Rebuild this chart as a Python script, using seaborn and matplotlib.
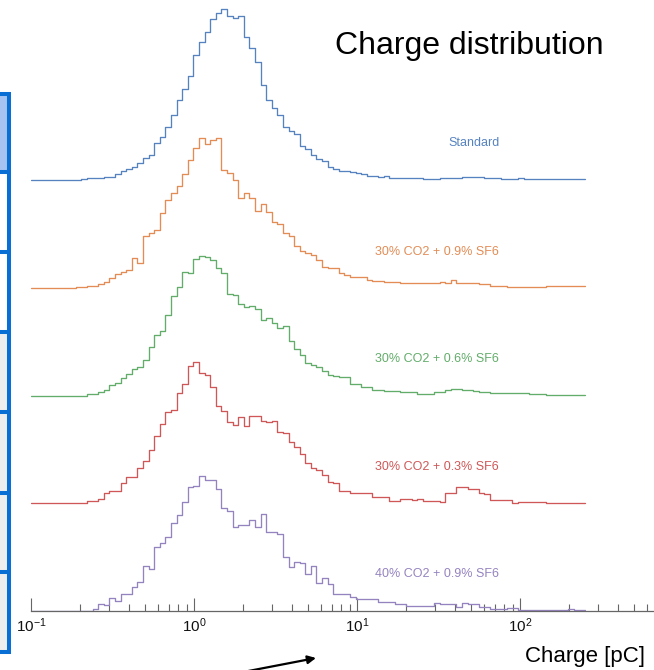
import numpy as np
import pandas as pd
import matplotlib
matplotlib.use("Agg")
import matplotlib.pyplot as plt
import seaborn as sns
from matplotlib.patches import Rectangle

# ---------------- data ----------------
series_names = ["Standard", "30% CO2 + 0.9% SF6", "30% CO2 + 0.6% SF6",
                "30% CO2 + 0.3% SF6", "40% CO2 + 0.9% SF6"]
log_charge_min = -1.0   # 0.1 pC
log_charge_max = 2.4    # ~251 pC
n_bins = 99

standard = [0, 0, 0, 0, 0, 0, 0, 0.3, 0.5, 0.7,
            1.7, 1.7, 1.7, 3.3, 3.3, 6, 9.3, 10.7, 13.3, 16.7,
            21.7, 25, 36.7, 42.7, 53.3, 65, 80, 90.7, 104, 125,
            138.3, 148.3, 161, 166.7, 170.7, 164, 161.7, 164.3, 142.7, 131.7,
            118.3, 95, 80, 71.7, 65, 53.3, 49, 45.7, 34.3, 30.7,
            25, 21, 19.3, 13, 10.7, 9.3, 9.3, 8, 7.3, 6,
            4.3, 4, 2.7, 4, 2.3, 2.3, 1.7, 1.7, 1.7, 1.7,
            1.3, 1.3, 1, 2, 2, 2, 2, 2.7, 2.7, 2.7,
            2.7, 1.7, 2, 2, 1, 1, 1, 1.7, 1.3, 1.3,
            1.3, 0.7, 0.7, 0.7, 0.7, 0.7, 0.7, 0.7, 0.7]

co2_30_sf6_09 = [0, 0, 0, 0, 0, 0, 0, 0, 0.3, 0.7,
                 2, 2, 3.3, 5.3, 9.3, 13.7, 16, 18, 29.3, 24.3,
                 52, 55, 57.7, 74.3, 87.7, 95, 101.7, 113.7, 127.7, 139.3,
                 150, 143.3, 147.7, 149.3, 117.7, 114.3, 107.7, 90, 95, 89.3,
                 76.7, 83.7, 75.3, 66, 63.3, 54.3, 52, 42, 36.7, 34.3,
                 32.7, 27.7, 21, 19.3, 19.3, 15, 12.7, 11, 11, 11,
                 7.7, 7, 7, 6, 6, 6, 4.3, 4.3, 4.3, 5,
                 5, 5, 4.3, 6, 4.3, 7.7, 5, 5, 4.3, 4.3,
                 3.7, 3.7, 1.7, 1.7, 1.7, 1, 1, 1, 1, 1,
                 1, 1, 1.7, 1.7, 1.7, 1.7, 1.7, 1.7, 1.7]

co2_30_sf6_06 = [0, 0, 0, 0, 0, 0, 0, 0, 0, 0,
                 1.3, 1.3, 4, 6, 10.7, 12.3, 17.3, 21.7, 26.7, 28.3,
                 35.7, 48.3, 60.7, 65, 81, 99.3, 108.3, 124, 122.7, 136.7,
                 139.3, 138.3, 136, 127.3, 122.7, 101.7, 100.7, 91.7, 88.3, 89.3,
                 86.7, 76, 77.3, 72.7, 67.3, 70, 55, 46.7, 40.7, 32.7,
                 30.7, 28.3, 25, 21, 20, 18.3, 18.3, 11.7, 11.7, 8.3,
                 8.3, 6, 6, 4.3, 4.3, 4.3, 3.3, 3.3, 3.3, 1.7,
                 1.7, 1.7, 3.3, 3.3, 5.7, 7, 7, 5.7, 5.7, 4.7,
                 4, 4, 2.7, 2.7, 2.7, 2.3, 2.3, 2.3, 2.3, 1.7,
                 1.7, 1.7, 0.7, 0.7, 0.7, 0.7, 0.7, 0.7, 0.7]

co2_30_sf6_03 = [0, 0, 0, 0, 0, 0, 0, 0.7, 0.7, 0.7,
                 2, 2, 4, 10.7, 12.7, 12.7, 20.7, 26, 26, 35,
                 42.7, 53.3, 67.3, 79.3, 91.7, 93.3, 110, 119, 137.3, 141,
                 130, 128.3, 116, 97.3, 92.7, 81.7, 78.3, 86.7, 77.3, 87.3,
                 87.3, 82.7, 81.7, 82.3, 71.7, 70, 61.7, 56, 49.3, 40.7,
                 35, 33.3, 28, 21, 20, 12.3, 12.3, 10, 10, 10,
                 10, 6.7, 6.7, 6.7, 2.7, 2.7, 4, 4, 3.3, 4.7,
                 2.7, 2.7, 2.7, 1.7, 10.7, 10.7, 16.7, 16.7, 14, 14,
                 10.7, 9.3, 3.3, 3.3, 3.3, 3.3, 0.7, 1.7, 1.7, 1.7,
                 1.7, 1.7, 0.7, 0.7, 0.7, 0.7, 0.7, 0.7, 0.7]

co2_40_sf6_09 = [0, 0, 0, 0, 0, 0, 0, 0, 0, 0,
                 0, 1.7, 7.3, 5.7, 13, 9.7, 17.3, 17.3, 24, 29,
                 45, 42.3, 64, 68.3, 74, 88.3, 95.7, 109, 124, 125,
                 135, 130.7, 130.7, 121.7, 103.3, 99.7, 84, 85.7, 86.3, 90.7,
                 84, 97.3, 79, 79, 76.7, 54, 44, 49, 48.3, 37.3,
                 45, 28, 33, 27.3, 17.3, 17.3, 17.3, 14, 12.3, 12.3,
                 12.3, 12.3, 9, 9, 9, 6.7, 6.7, 4.7, 4.7, 4.7,
                 4.7, 4.7, 8, 7.3, 7.3, 7.3, 4, 8, 6.7, 6.7,
                 4, 4, 2.3, 2.3, 2.3, 3.3, 3.3, 1.3, 1.3, 1.3,
                 1.3, 1.3, 1.3, 1.3, 1.3, 1.3, 2.3, 0.7, 0.7]

all_counts = [standard, co2_30_sf6_09, co2_30_sf6_06, co2_30_sf6_03, co2_40_sf6_09]
colors = ["#5683c0", "#e38c55", "#62ad6a", "#d05757", "#9583c0"]

# ---------------- layout / style ----------------
W, H, DPI = 654, 670, 100
OFFSET_STEP = 107.75      # vertical shift between stacked histograms

sns.set_theme(style="white")
plt.rcParams["font.family"] = ["Liberation Sans", "DejaVu Sans"]
plt.rcParams["mathtext.fontset"] = "custom"
plt.rcParams["mathtext.rm"] = "Liberation Sans"
plt.rcParams["mathtext.it"] = "Liberation Sans:italic"

def fx(px):
    return px / W

def fy(py):
    return 1 - py / H

edges = np.logspace(log_charge_min, log_charge_max, n_bins + 1)
frames = []
n = len(series_names)
for k, (name, counts) in enumerate(zip(series_names, all_counts)):
    counts = np.asarray(counts, dtype=float)
    y = np.append(counts, counts[-1]) + OFFSET_STEP * (n - 1 - k)
    frames.append(pd.DataFrame({"charge": edges, "y": y, "series": name}))
df = pd.concat(frames, ignore_index=True)

fig = plt.figure(figsize=(W / DPI, H / DPI), dpi=DPI)
ax = fig.add_axes([fx(31), 59 / H, 1 - fx(31), 611 / H])

sns.lineplot(data=df, x="charge", y="y", hue="series", palette=colors,
             hue_order=series_names, drawstyle="steps-post", estimator=None,
             sort=False, legend=False, linewidth=0.95, ax=ax)

ax.set_xscale("log")
ax.set_xlim(10 ** log_charge_min, 10 ** ((W - 31) / 163 - 1))
ax.set_ylim(0, 611)
ax.set_xlabel("")
ax.set_ylabel("")
ax.set_yticks([])
for s in ["left", "top", "right"]:
    ax.spines[s].set_visible(False)
ax.spines["bottom"].set_color("#666666")
ax.spines["bottom"].set_linewidth(0.9)
ax.tick_params(axis="x", which="both", bottom=True, direction="in",
               color="#666666", labelcolor="#111111", labelsize=11, pad=4)
ax.tick_params(axis="x", which="major", length=9.5, width=0.8)
ax.tick_params(axis="x", which="minor", length=4.8, width=0.8)
ax.set_facecolor("none")

# series labels
label_pos = [(448, 143.3, "left"), (375, 251.7, "left"), (375, 359.3, "left"),
             (375, 466.7, "left"), (375, 574.3, "left")]
for (x, y, ha), name, c in zip(label_pos, series_names, colors):
    fig.text(fx(x), fy(y), name, color=c, fontsize=9, ha=ha, va="center")

fig.text(fx(469), fy(54), "Charge distribution", fontsize=23,
         ha="center", va="baseline", color="black")
fig.text(fx(645), fy(662), "Charge [pC]", fontsize=16,
         ha="right", va="baseline", color="black")

# slide decoration: table strip on the left edge
border = "#0a6fd4"
cell_rows = [94, 172, 252, 332, 412, 493, 572, 652]
cell_fill = ["#a6c3f2", "white", "white", "#eeeeee", "#eeeeee", "#eeeeee", "#eeeeee"]
for (y0, y1), fc in zip(zip(cell_rows[:-1], cell_rows[1:]), cell_fill):
    fig.add_artist(Rectangle((fx(-10), fy(y1)), fx(19), fy(y0) - fy(y1),
                             transform=fig.transFigure, facecolor=fc,
                             edgecolor="none", zorder=1))
for y in cell_rows:
    fig.add_artist(plt.Line2D([fx(-10), fx(11)], [fy(y), fy(y)],
                              transform=fig.transFigure, color=border, lw=2.9,
                              solid_capstyle="butt", zorder=2))
fig.add_artist(plt.Line2D([fx(9), fx(9)], [fy(cell_rows[0] - 1.5), fy(cell_rows[-1] + 1.5)],
                          transform=fig.transFigure, color=border, lw=2.9,
                          solid_capstyle="butt", zorder=2))

# arrow at the bottom
ax.annotate("", xy=(316, H - 658), xytext=(238, -3), xycoords="figure pixels",
            textcoords="figure pixels", annotation_clip=False,
            arrowprops=dict(arrowstyle="-|>", color="black", lw=1.6,
                            mutation_scale=12, shrinkA=0, shrinkB=0))

fig.savefig("out.png", dpi=DPI)
